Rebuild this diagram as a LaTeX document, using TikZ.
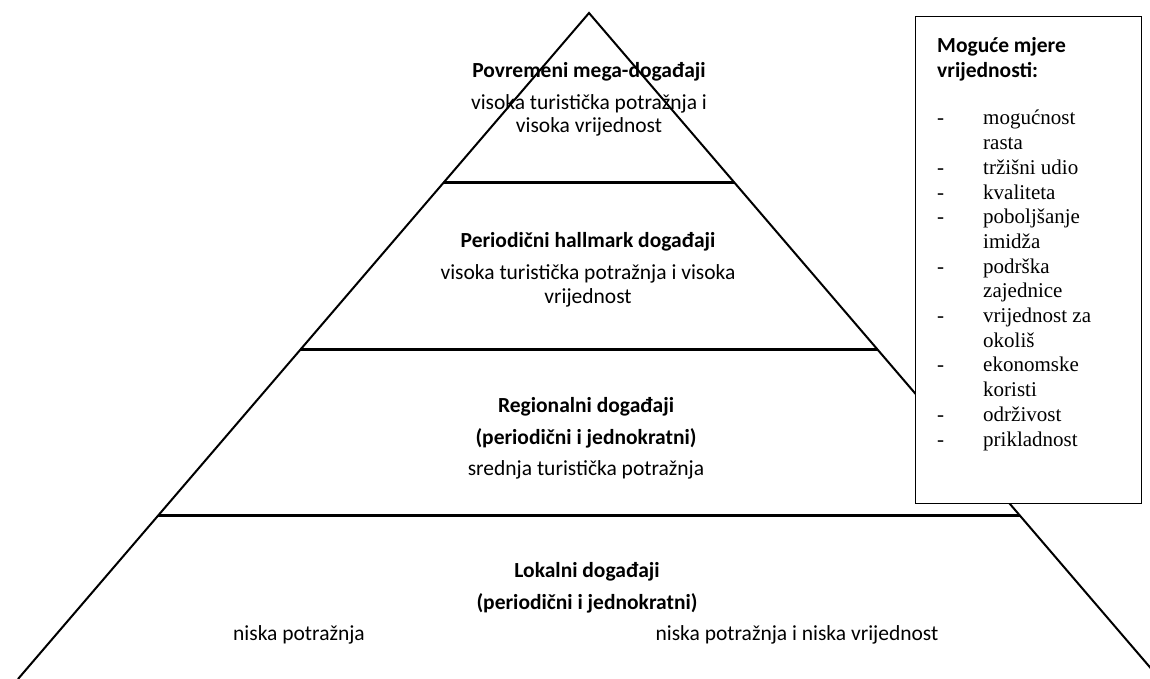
\documentclass[tikz,border=0pt]{standalone}
\usepackage{fontspec}
\setmainfont{Carlito}
\newfontfamily\mjerefont{Liberation Serif}
\usetikzlibrary{calc}
\begin{document}
\begin{tikzpicture}[x=1pt,y=-1pt,
 naslov/.style={font=\fontsize{21.5}{26}\selectfont\bfseries,inner sep=0pt,anchor=base},
 opis/.style={font=\fontsize{21.5}{26}\selectfont,inner sep=0pt,anchor=base}]
\useasboundingbox (0,0) rectangle (1150,679);
\clip (0,0) rectangle (1150,679);
%piramida
\coordinate (vrh) at (589,13);
\coordinate (dl) at (18,679);
\coordinate (dd) at (1160,679);
\draw[line width=2pt] (dl) -- (vrh) -- (dd);
%razine
\foreach \t/\n in {0.254/1,0.506/2,0.754/3}
{\coordinate (l\n) at ($(vrh)!\t!(dl)$);
 \coordinate (r\n) at ($(vrh)!\t!(dd)$);
 \draw[line width=3pt] (l\n) -- (r\n);}
%mega
\node[naslov] (mega) at (589,78) {Povremeni mega-događaji};
\node[opis] (mega1) at (589,110) {visoka turistička potražnja i};
\node[opis] (mega2) at (589,133) {visoka vrijednost};
%hallmark
\node[naslov] (hall) at (588,247) {Periodični hallmark događaji};
\node[opis] (hall1) at (588,279) {visoka turistička potražnja i visoka};
\node[opis] (hall2) at (588,303) {vrijednost};
%regionalni
\node[naslov] (reg) at (586,412) {Regionalni događaji};
\node[naslov] (reg1) at (586,444) {(periodični i jednokratni)};
\node[opis] (reg2) at (586,475) {srednja turistička potražnja};
%lokalni
\node[naslov] (lok) at (587,577) {Lokalni događaji};
\node[naslov] (lok1) at (587,609) {(periodični i jednokratni)};
\node[opis] (lok2) at (299,640) {niska potražnja};
\node[opis] (lok3) at (797,640) {niska potražnja i niska vrijednost};
%okvir
\node[draw,fill=white,line width=1.2pt,minimum width=226pt,minimum height=487pt,
 anchor=north west,inner sep=0pt] (mjere) at (915,16) {};
\node[naslov,anchor=base west] (mjereT1) at (937,53) {Moguće mjere};
\node[naslov,anchor=base west] (mjereT2) at (937,78) {vrijednosti:};
\node[anchor=base west,inner sep=0pt,font=\mjerefont\fontsize{21}{24.7}\selectfont] (popis) at (937,125)
{\begin{tabular}[t]{@{}p{46pt}@{}l@{}}
- & mogućnost\\
  & rasta\\
- & tržišni udio\\
- & kvaliteta\\
- & poboljšanje\\
  & imidža\\
- & podrška\\
  & zajednice\\
- & vrijednost za\\
  & okoliš\\
- & ekonomske\\
  & koristi\\
- & održivost\\
- & prikladnost
\end{tabular}};
\end{tikzpicture}
\end{document}
